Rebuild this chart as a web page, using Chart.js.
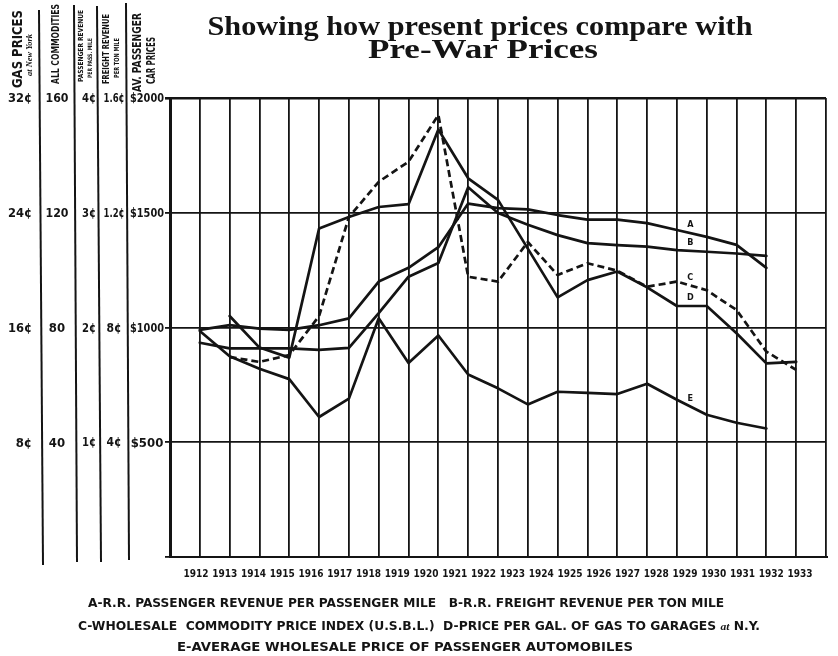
<!DOCTYPE html>
<html>
<head>
<meta charset="utf-8">
<script src="https://cdn.jsdelivr.net/npm/chart.js@4.4.1/dist/chart.umd.min.js"></script>
<style>html,body{margin:0;padding:0;background:#fff}canvas{display:block}</style>
</head>
<body>
<canvas id="chart" width="838" height="656"></canvas>
<script>
// data
const years = [1912,1913,1914,1915,1916,1917,1918,1919,1920,1921,1922,1923,1924,1925,1926,1927,1928,1929,1930,1931,1932];
const yearLabels = [1912,1913,1914,1915,1916,1917,1918,1919,1920,1921,1922,1923,1924,1925,1926,1927,1928,1929,1930,1931,1932,1933];
// A - R.R. passenger revenue per passenger mile (cents)
const passRev = [1.98,2.02,1.99,1.98,2.02,2.08,2.40,2.52,2.70,3.08,3.04,3.03,2.98,2.94,2.94,2.91,2.85,2.79,2.72,2.52,null];
// B - R.R. freight revenue per ton mile (cents)
const freightRev = [0.747,0.727,0.727,0.727,0.722,0.729,0.850,0.977,1.025,1.289,1.199,1.158,1.122,1.094,1.087,1.082,1.070,1.064,1.058,1.050,null];
// C - wholesale commodity price index
const commodIdx = [null,69.7,68.0,70.4,84.0,118.5,130.8,137.8,154.1,97.7,96.0,109.8,98.3,102.4,99.8,94.2,96.0,93.0,86.1,71.6,65.2];
// D - price per gal. of gas to garages at N.Y. (cents)
const gasPrice = [null,16.8,14.6,13.9,22.9,23.7,24.4,24.6,29.8,26.4,24.9,21.5,18.1,19.3,19.9,18.8,17.5,17.5,15.6,13.5,13.6];
// E - average wholesale price of passenger automobiles ($)
const carPrice = [985,875,820,775,610,690,1040,845,965,795,735,665,720,715,710,755,685,620,585,560,null];

// left hand scale columns
const gasTicks = [8,16,24,32],        gasTickLabels = ['8¢','16¢','24¢','32¢'];
const comTicks = [40,80,120,160],     comTickLabels = ['40','80','120','160'];
const passTicks = [1,2,3,4],          passTickLabels = ['1¢','2¢','3¢','4¢'];
const frtTicks = [0.4,0.8,1.2,1.6],   frtTickLabels = ['4¢','8¢','1.2¢','1.6¢'];
const carTicks = [500,1000,1500,2000], carTickLabels = ['$500','$1000','$1500','$2000'];

const INK = '#141414';
const SANS = '"DejaVu Sans Condensed", "DejaVu Sans", sans-serif';

function pts(arr){ return years.map((yr,i)=>({x:yr, y:arr[i]})); }

// draw text squeezed/stretched to an exact width
function fitSegs(ctx, segs, x, y, w, align){
  ctx.save();
  let nat = 0;
  segs.forEach(s=>{ ctx.font = s.f; nat += ctx.measureText(s.t).width; });
  const sc = w / nat;
  const x0 = align==='center' ? x - w/2 : align==='right' ? x - w : x;
  ctx.translate(x0, y); ctx.scale(sc, 1);
  ctx.textAlign = 'left';
  let cx = 0;
  segs.forEach(s=>{ ctx.font = s.f; ctx.fillText(s.t, cx, 0); cx += ctx.measureText(s.t).width; });
  ctx.restore();
}
function fitText(ctx, t, x, y, font, w, align){ fitSegs(ctx, [{t, f:font}], x, y, w, align); }
function vText(ctx, t, x, yBottom, len, font){
  ctx.save(); ctx.translate(x, yBottom); ctx.rotate(-Math.PI/2);
  ctx.textBaseline = 'middle';
  fitText(ctx, t, 0, 0, font, len, 'left');
  ctx.restore();
}

const decor = {
  id: 'decor',
  beforeDraw(chart){
    const c = chart.ctx;
    c.save(); c.fillStyle = '#fff'; c.fillRect(0,0,chart.width,chart.height); c.restore();
  },
  afterDatasetsDraw(chart){
    const c = chart.ctx, sc = chart.scales;
    c.save();
    c.fillStyle = INK; c.strokeStyle = INK;

    // title
    c.textBaseline = 'alphabetic';
    const tf = 'bold 28px "Liberation Serif", serif';
    fitText(c, 'Showing how present prices compare with', 480, 35, tf, 545, 'center');
    fitText(c, 'Pre-War Prices', 483, 58, tf, 230, 'center');

    // column dividers on the left
    c.lineWidth = 2;
    [[39,10,43,565],[74,5,77,562],[97,6,101,562],[126,3,129,560]].forEach(l=>{
      c.beginPath(); c.moveTo(l[0],l[1]); c.lineTo(l[2],l[3]); c.stroke();
    });

    // rotated column headers
    vText(c, 'GAS PRICES', 18, 88, 78, 'bold 14px '+SANS);
    vText(c, 'at New York', 30, 76, 42, 'italic bold 9px "Liberation Serif", serif');
    vText(c, 'ALL COMMODITIES', 56, 84, 80, 'bold 11px '+SANS);
    vText(c, 'PASSENGER REVENUE', 81, 82, 72, 'bold 7px '+SANS);
    vText(c, 'PER PASS. MILE', 90, 78, 40, 'bold 6px '+SANS);
    vText(c, 'FREIGHT REVENUE', 107, 84, 70, 'bold 8px '+SANS);
    vText(c, 'PER TON MILE', 117, 78, 40, 'bold 7px '+SANS);
    vText(c, 'AV. PASSENGER', 138, 92, 79, 'bold 12px '+SANS);
    vText(c, 'CAR PRICES', 152, 84, 47, 'bold 12px '+SANS);

    // column tick labels
    c.textBaseline = 'middle';
    const cols = [
      {id:'gasY',  v:gasTicks,  l:gasTickLabels,  x:32,  a:'right',  f:'bold 13px '+SANS, w:24},
      {id:'comY',  v:comTicks,  l:comTickLabels,  x:57,  a:'center', f:'bold 13px '+SANS, w:23},
      {id:'passY', v:passTicks, l:passTickLabels, x:89,  a:'center', f:'bold 12px '+SANS, w:14},
      {id:'frtY',  v:frtTicks,  l:frtTickLabels,  x:114, a:'center', f:'bold 12px '+SANS, w:21},
      {id:'y',     v:carTicks,  l:carTickLabels,  x:147, a:'center', f:'bold 13px '+SANS, w:34}
    ];
    cols.forEach(col=>{
      const s = sc[col.id];
      col.v.forEach((v,i)=>{
        c.font = col.f; c.textAlign = col.a;
        c.fillText(col.l[i], col.x, s.getPixelForValue(v)+1, col.w);
      });
    });

    // series letters between 1928 and 1929
    const at = 1928.45, k = years.indexOf(1928);
    c.font = 'bold 9px '+SANS; c.textAlign = 'center';
    chart.data.datasets.forEach(ds=>{
      const d = ds.data, v = d[k].y + (d[k+1].y - d[k].y)*(at-1928);
      c.fillText(ds.label, sc.x.getPixelForValue(at), sc[ds.yAxisID].getPixelForValue(v) - 8);
    });

    // key at the bottom
    const kf = 'bold 13px '+SANS, kit = 'italic bold 11px "Liberation Serif", serif';
    fitSegs(c, [{t:'A-R.R. PASSENGER REVENUE PER PASSENGER MILE   B-R.R. FREIGHT REVENUE PER TON MILE', f:kf}], 88, 604, 636, 'left');
    fitSegs(c, [{t:'C-WHOLESALE  COMMODITY PRICE INDEX (U.S.B.L.)  D-PRICE PER GAL. OF GAS TO GARAGES ', f:kf}, {t:'at', f:kit}, {t:' N.Y.', f:kf}], 78, 627, 682, 'left');
    fitSegs(c, [{t:'E-AVERAGE WHOLESALE PRICE OF PASSENGER AUTOMOBILES', f:kf}], 177, 648, 456, 'left');
    c.restore();
  }
};

function series(label, arr, axis, dash){
  return { label, data: pts(arr), yAxisID: axis, borderColor: INK, borderWidth: 2.7,
    borderDash: dash || [], borderJoinStyle: 'round', borderCapStyle: dash ? 'butt' : 'round',
    pointRadius: 0, tension: 0, fill: false };
}

new Chart(document.getElementById('chart'), {
  type: 'line',
  data: { datasets: [
    series('A', passRev, 'passY'),
    series('B', freightRev, 'frtY'),
    series('C', commodIdx, 'comY', [7,4]),
    series('D', gasPrice, 'gasY'),
    series('E', carPrice, 'y')
  ]},
  options: {
    responsive: false, animation: false, devicePixelRatio: 1,
    layout: { padding: { left: 165, top: 98, right: 12, bottom: 0 } },
    plugins: { legend: { display: false }, tooltip: { enabled: false } },
    scales: {
      x: { type: 'linear', position: 'bottom', min: 1911, max: 1933,
        ticks: { display: false, stepSize: 1 },
        grid: { color: INK, drawTicks: false, lineWidth: ctx => ctx.tick && ctx.tick.value === 1911 ? 3 : 1.8 },
        border: { display: true, color: INK, width: 2 },
        afterFit: s => { s.height = 0; } },
      xLab: { type: 'linear', position: 'bottom', min: 1911.1, max: 1933.9,
        grid: { display: false, drawTicks: false }, border: { display: false },
        afterBuildTicks: s => { s.ticks = yearLabels.map(v=>({value:v})); },
        ticks: { color: INK, padding: 11, autoSkip: false, maxRotation: 0,
          font: { family: '"Liberation Sans Narrow", "DejaVu Sans Condensed", sans-serif', size: 10, weight: 'bold' },
          callback: v => String(v) },
        afterFit: s => { s.height = 99; } },
      y: { position: 'left', min: 0, max: 2000,
        ticks: { display: false, stepSize: 500 },
        grid: { color: INK, tickLength: 5, lineWidth: ctx => ctx.tick && ctx.tick.value === 2000 ? 2.6 : 1.8 },
        border: { display: true, color: INK, width: 3 },
        afterFit: s => { s.width = 5; } },
      gasY:  { display: false, min: 0, max: 32 },
      comY:  { display: false, min: 0, max: 160 },
      passY: { display: false, min: 0, max: 4 },
      frtY:  { display: false, min: 0, max: 1.6 }
    }
  },
  plugins: [decor]
});
</script>
</body>
</html>
